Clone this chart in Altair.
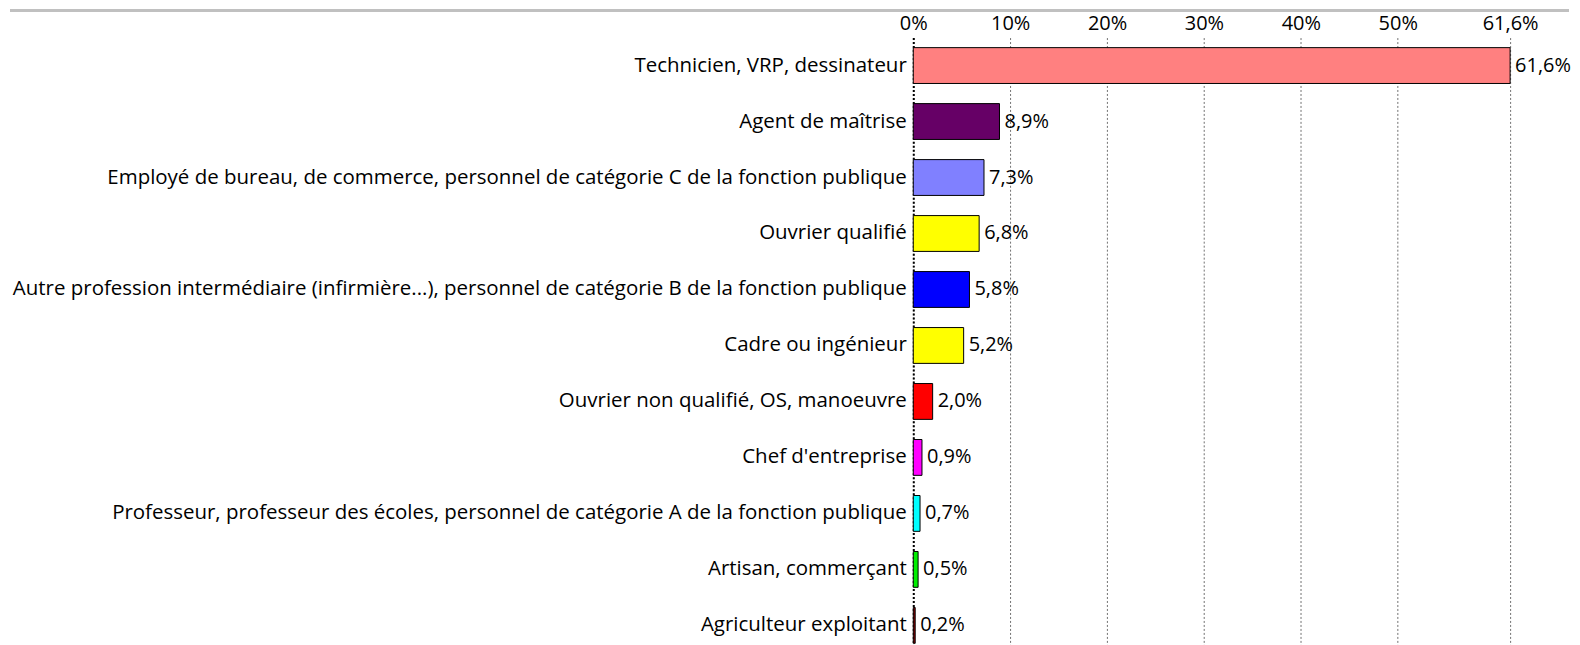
import altair as alt
import pandas as pd

categories = [
    "Technicien, VRP, dessinateur",
    "Agent de maîtrise",
    "Employé de bureau, de commerce, personnel de catégorie C de la fonction publique",
    "Ouvrier qualifié",
    "Autre profession intermédiaire (infirmière...), personnel de catégorie B de la fonction publique",
    "Cadre ou ingénieur",
    "Ouvrier non qualifié, OS, manoeuvre",
    "Chef d'entreprise",
    "Professeur, professeur des écoles, personnel de catégorie A de la fonction publique",
    "Artisan, commerçant",
    "Agriculteur exploitant",
]
values = [61.6, 8.9, 7.3, 6.8, 5.8, 5.2, 2.0, 0.9, 0.7, 0.5, 0.2]
colors = ["#FF8080", "#660066", "#8080FF", "#FFFF00", "#0000FF", "#FFFF00",
          "#FF0000", "#FF00FF", "#00FFFF", "#00EE00", "#800000"]
tick_values = [0, 10, 20, 30, 40, 50, 61.6]

df = pd.DataFrame({"cat": categories, "val": values, "col": colors})

FONT = "Open Sans"
FS = 20

x_enc = alt.X("val:Q",
              scale=alt.Scale(domain=[0, 61.6], nice=False, zero=True),
              axis=alt.Axis(orient="top", values=tick_values, title=None,
                            labelExpr="replace(toString(datum.value), '.', ',') + '%'",
                            ticks=False, domain=False, labelPadding=4,
                            labelFont=FONT, labelFontSize=FS, labelColor="#000000",
                            grid=True, gridColor="#707070", gridDash=[2, 2], gridWidth=1,
                            labelFlush=False, labelOverlap=False))
y_enc = alt.Y("cat:N", sort=categories,
              scale=alt.Scale(paddingInner=0.36, paddingOuter=0.18),
              axis=alt.Axis(title=None, ticks=False, labelPadding=7, labelLimit=2000,
                            labelFont=FONT, labelFontSize=20.5, labelColor="#000000",
                            domain=True, domainColor="#000000", domainDash=[2, 2],
                            domainWidth=2))

base = alt.Chart(df)

bars = base.mark_bar(stroke="#000000", strokeWidth=1).encode(
    x=x_enc, y=y_enc, color=alt.Color("col:N", scale=None)
)

labels = base.transform_calculate(
    lab="replace(format(datum.val, '.1f'), '.', ',') + '%'"
).mark_text(align="left", baseline="middle", dx=5, font=FONT, fontSize=FS,
            color="#000000").encode(
    x="val:Q", y=alt.Y("cat:N", sort=categories), text="lab:N"
)

topline = alt.Chart(pd.DataFrame({"a": [0]})).mark_rule(
    color="#C0C0C0", strokeWidth=3
).encode(x=alt.value(-905), x2=alt.value(657), y=alt.value(-27))

chart = alt.layer(bars, labels, topline).properties(
    width=598, height=617, padding=0
).configure_view(stroke=None)

chart.save("out.html", embed_options={"renderer": "svg", "actions": False})
